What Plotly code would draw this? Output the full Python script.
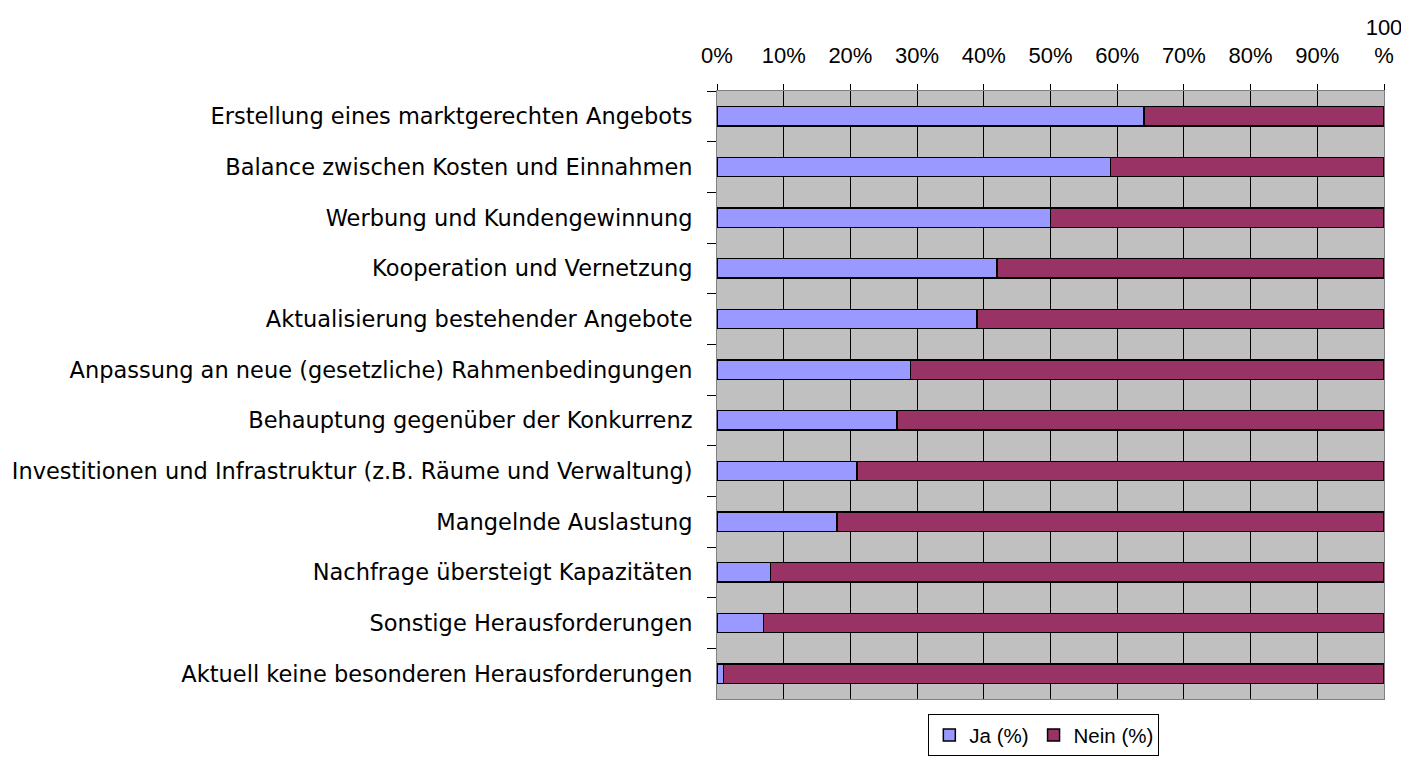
import plotly.graph_objects as go

categories = [
    "Erstellung eines marktgerechten Angebots",
    "Balance zwischen Kosten und Einnahmen",
    "Werbung und Kundengewinnung",
    "Kooperation und Vernetzung",
    "Aktualisierung bestehender Angebote",
    "Anpassung an neue (gesetzliche) Rahmenbedingungen",
    "Behauptung gegenüber der Konkurrenz",
    "Investitionen und Infrastruktur (z.B. Räume und Verwaltung)",
    "Mangelnde Auslastung",
    "Nachfrage übersteigt Kapazitäten",
    "Sonstige Herausforderungen",
    "Aktuell keine besonderen Herausforderungen",
]
ja = [64, 59, 50, 42, 39, 29, 27, 21, 18, 8, 7, 1]
nein = [100 - v for v in ja]

tick_vals = [0, 10, 20, 30, 40, 50, 60, 70, 80, 90, 100]
tick_text = ["0%", "10%", "20%", "30%", "40%", "50%", "60%", "70%", "80%", "90%", "100<br>%"]

FONT = "Liberation Sans, Arial, sans-serif"
FONT_CAT = "DejaVu Sans, Verdana, sans-serif"

fig = go.Figure()
fig.add_trace(go.Bar(
    y=categories, x=ja, orientation="h", name="Ja (%)",
    marker=dict(color="#9999FF", line=dict(color="black", width=1.5)),
))
fig.add_trace(go.Bar(
    y=categories, x=nein, orientation="h", name="Nein (%)",
    marker=dict(color="#993366", line=dict(color="black", width=1.5)),
))

fig.update_layout(
    barmode="stack",
    bargap=0.62,
    width=1409, height=759,
    margin=dict(l=709, r=33, t=83, b=68),
    paper_bgcolor="white",
    plot_bgcolor="#C0C0C0",
    font=dict(family=FONT, size=22, color="black"),
    showlegend=True,
    legend=dict(
        orientation="h", x=0.49, xanchor="center",
        yref="container", y=0.0695, yanchor="top",
        bordercolor="black", borderwidth=1, bgcolor="white",
        font=dict(family=FONT, size=20.5), traceorder="normal",
        itemwidth=30,
    ),
    xaxis=dict(
        side="top", range=[0, 100], tickvals=tick_vals, ticktext=tick_text,
        showgrid=True, gridcolor="black", gridwidth=1,
        ticks="outside", ticklen=6, tickcolor="black",
        showline=True, linecolor="#808080", mirror=True,
        zeroline=False, fixedrange=True, automargin=False,
        ticklabelstandoff=12,
        tickfont=dict(family=FONT, size=22),
    ),
    yaxis=dict(
        categoryorder="array", categoryarray=categories, autorange="reversed",
        tickson="boundaries", ticks="outside", ticklen=9, tickcolor="black",
        showgrid=False, showline=True, linecolor="#808080", mirror=True,
        ticklabelstandoff=19, automargin=False,
        tickfont=dict(family=FONT_CAT, size=22.5),
    ),
)

fig.write_html("out.html")
